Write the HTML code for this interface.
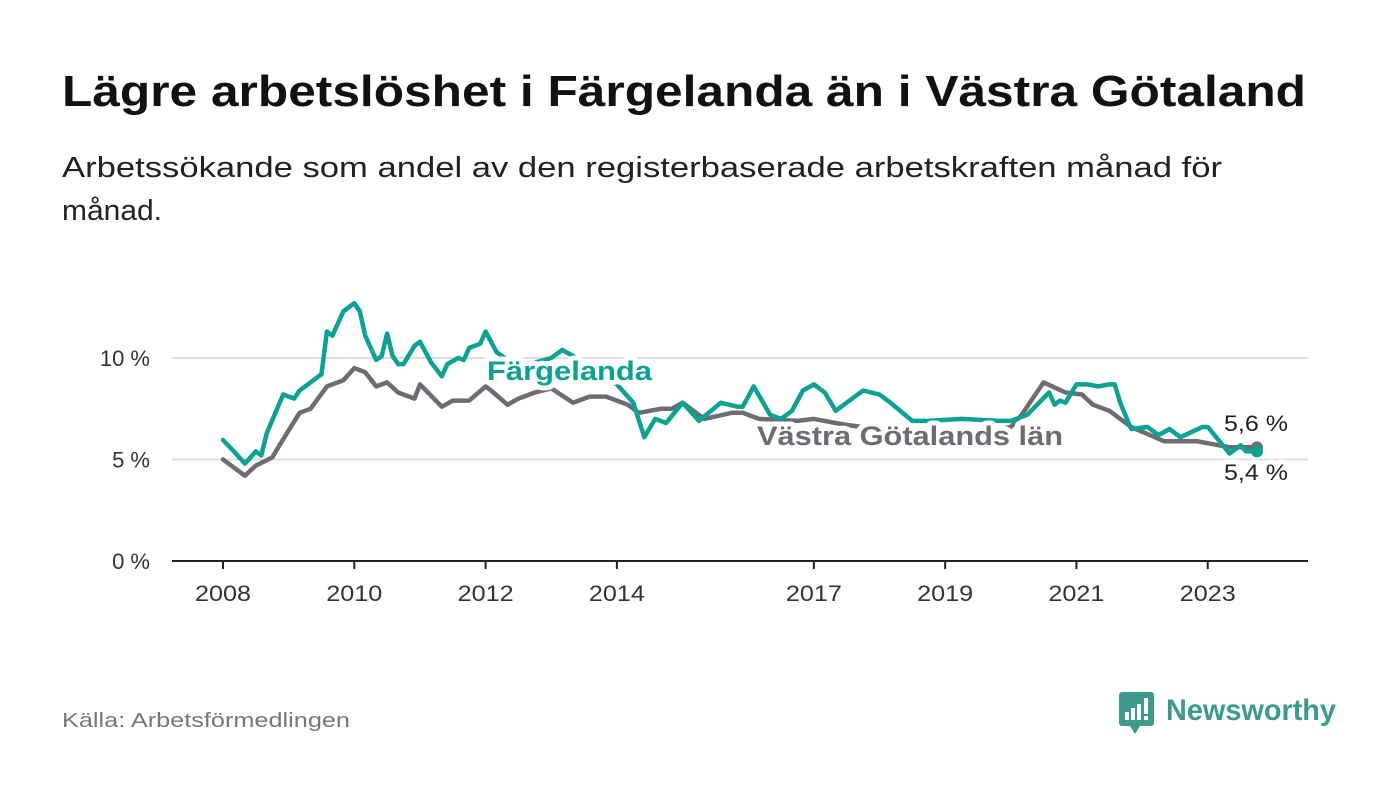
<!DOCTYPE html>
<html><head><meta charset="utf-8"><style>
body{margin:0;background:#fff;}
svg{display:block;font-family:"Liberation Sans",sans-serif;}
.halo{paint-order:stroke;stroke:#fff;stroke-width:10px;stroke-linejoin:round;}
</style></head><body>
<svg id="chart" width="1400" height="794" viewBox="0 0 1400 794">
<text x="62" y="106" font-size="44" font-weight="bold" fill="#111" textLength="1244" lengthAdjust="spacingAndGlyphs">Lägre arbetslöshet i Färgelanda än i Västra Götaland</text>
<text x="62" y="177" font-size="29" fill="#222" textLength="1160" lengthAdjust="spacingAndGlyphs">Arbetssökande som andel av den registerbaserade arbetskraften månad för</text>
<text x="62" y="220" font-size="29" fill="#222" textLength="100" lengthAdjust="spacingAndGlyphs">månad.</text>
<g id="grid"></g>
<g id="series"></g>
<g id="labels"></g>
<text x="62" y="727" font-size="20" fill="#777" textLength="288" lengthAdjust="spacingAndGlyphs">Källa: Arbetsförmedlingen</text>
<g>
<rect x="1119" y="692" width="35" height="34" rx="3" fill="#3c9a8b"/>
<polygon points="1130,726 1140,726 1135,734" fill="#3c9a8b"/>
<rect x="1125" y="712" width="4" height="8" fill="#fff"/><rect x="1131" y="708" width="4" height="12" fill="#fff"/><rect x="1137" y="704" width="4" height="16" fill="#fff"/><rect x="1144" y="698" width="4" height="16" fill="#fff"/><rect x="1144" y="716" width="4" height="4" fill="#fff"/>
<text x="1166" y="720" font-size="30" font-weight="bold" fill="#3c9a8b" textLength="170" lengthAdjust="spacingAndGlyphs">Newsworthy</text>
</g>
</svg>
<script>
const yTicks=[0,5,10];
const xTickYears=[2008,2010,2012,2014,2017,2019,2021,2023];
const fargMonths=[0,2,4,5,6,7,8,11,13,14,16,18,19,20,22,24,25,26,28,29,30,31,32,33,35,36,38,40,41,43,44,45,47,48,49,50,52,56,60,62,64,67,70,72,75,77,79,81,84,87,91,94,95,97,100,102,104,106,108,110,112,117,120,122,126,129,135,142,144,147,151,152,153,154,156,158,160,162,163,164,166,169,171,173,175,179,180,184,186,187,189];
const fargValues=[5.96,5.4,4.8,5.1,5.4,5.2,6.3,8.2,8.0,8.4,8.8,9.2,11.3,11.1,12.3,12.7,12.3,11.1,9.9,10.1,11.2,10.1,9.7,9.7,10.6,10.8,9.8,9.1,9.7,10.0,9.9,10.5,10.7,11.3,10.8,10.3,9.9,9.7,10.0,10.4,10.1,9.4,9.0,8.7,7.8,6.1,7.0,6.8,7.8,6.9,7.8,7.6,7.6,8.6,7.2,7.0,7.4,8.4,8.7,8.3,7.4,8.4,8.2,7.8,6.9,6.9,7.0,6.9,6.9,7.2,8.3,7.7,7.9,7.8,8.7,8.7,8.6,8.7,8.7,7.8,6.5,6.6,6.2,6.5,6.1,6.6,6.6,5.3,5.7,5.4,5.4];
const vgMonths=[0,4,6,9,11,14,16,19,22,24,26,28,30,32,35,36,40,42,45,48,49,52,54,57,60,64,67,70,72,74,76,80,82,84,88,93,95,98,105,108,114,120,126,132,138,144,146,150,154,157,159,162,166,172,178,184,189];
const vgValues=[5.0,4.2,4.7,5.1,6.0,7.3,7.5,8.6,8.9,9.5,9.3,8.6,8.8,8.3,8.0,8.7,7.6,7.9,7.9,8.6,8.4,7.7,8.0,8.3,8.5,7.8,8.1,8.1,7.9,7.7,7.3,7.5,7.5,7.8,7.0,7.3,7.3,7.0,6.9,7.0,6.7,6.5,6.3,6.2,6.3,6.6,7.2,8.8,8.3,8.2,7.7,7.4,6.6,5.9,5.9,5.6,5.6];
const NS="http://www.w3.org/2000/svg";
const xM=m=>223+m*(65.65/12);
const xY=y=>223+(y-2008)*65.65;
const yV=v=>561-v*20.3;
function mk(tag,attrs,parent,text){const e=document.createElementNS(NS,tag);for(const k in attrs)e.setAttribute(k,attrs[k]);if(text!==undefined)e.textContent=text;parent.appendChild(e);return e;}
const grid=document.getElementById('grid');
yTicks.forEach(t=>{
  if(t>0){const g=mk('line',{x1:172,x2:1308,y1:yV(t),y2:yV(t),stroke:'#ddd','stroke-width':2},grid);
  
  }
  const l=mk('text',{x:150,y:yV(t)+8,'text-anchor':'end','font-size':22,fill:'#333'},grid,t+' %');
  
  
});
const ax=mk('line',{x1:172,x2:1308,y1:561,y2:561,stroke:'#222','stroke-width':2},grid);


xTickYears.forEach(y=>{
  mk('line',{x1:xY(y),x2:xY(y),y1:561,y2:569,stroke:'#222','stroke-width':2},grid);
  const l=mk('text',{x:xY(y),y:601,'text-anchor':'middle','font-size':22,fill:'#333',textLength:56,lengthAdjust:'spacingAndGlyphs'},grid,String(y));
  
  
});
const s=document.getElementById('series');
function line(ms,vs,color,name){
  const d=ms.map((m,i)=>(i?'L':'M')+xM(m).toFixed(1)+','+yV(vs[i]).toFixed(1)).join('');
  const p=mk('path',{d:d,fill:'none',stroke:color,'stroke-width':4.5,'stroke-linejoin':'round','stroke-linecap':'round'},s);
  
  
  const c=mk('circle',{cx:xM(ms[ms.length-1]),cy:yV(vs[vs.length-1]),r:6,fill:color},s);
  
  
}
line(vgMonths,vgValues,'#6e6c72','vastra-gotaland-line');
line(fargMonths,fargValues,'#0aa293','fargelanda-line');
const lb=document.getElementById('labels');
const a=mk('text',{x:487,y:380,'font-size':27,'font-weight':'bold',fill:'#0aa293',class:'halo',textLength:165,lengthAdjust:'spacingAndGlyphs'},lb,'Färgelanda');


const b=mk('text',{x:757,y:445,'font-size':27,'font-weight':'bold',fill:'#6e6c72',class:'halo',textLength:306,lengthAdjust:'spacingAndGlyphs'},lb,'Västra Götalands län');


const e1=mk('text',{x:1224,y:431,'font-size':22,fill:'#222',class:'halo',textLength:64,lengthAdjust:'spacingAndGlyphs'},lb,'5,6 %');


const e2=mk('text',{x:1224,y:480,'font-size':22,fill:'#222',class:'halo',textLength:64,lengthAdjust:'spacingAndGlyphs'},lb,'5,4 %');


</script>
</body></html>
